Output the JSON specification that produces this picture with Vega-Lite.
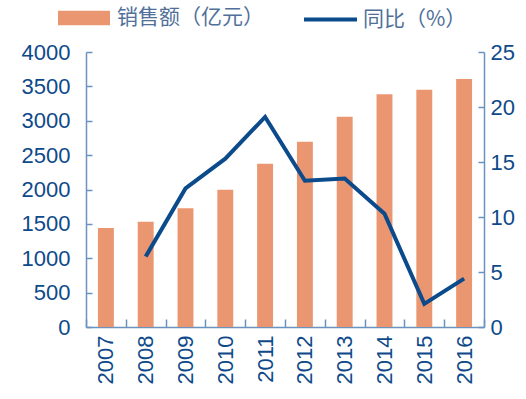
{
  "$schema": "https://vega.github.io/schema/vega-lite/v6.json",
  "width": 398,
  "height": 275,
  "autosize": {"type": "none"},
  "padding": {"left": 86, "top": 52, "right": 42, "bottom": 72},
  "background": "white",
  "data": {
    "values": [
      {"year": "2007", "sales": 1440, "yoy": null},
      {"year": "2008", "sales": 1532, "yoy": 6.4},
      {"year": "2009", "sales": 1726, "yoy": 12.6},
      {"year": "2010", "sales": 1997, "yoy": 15.3},
      {"year": "2011", "sales": 2375, "yoy": 19.1},
      {"year": "2012", "sales": 2695, "yoy": 13.3},
      {"year": "2013", "sales": 3059, "yoy": 13.5},
      {"year": "2014", "sales": 3385, "yoy": 10.3},
      {"year": "2015", "sales": 3452, "yoy": 2.1},
      {"year": "2016", "sales": 3607, "yoy": 4.4}
    ]
  },
  "config": {
    "view": {"stroke": null},
    "axis": {
      "domainColor": "#6B93BF",
      "domainWidth": 1.5,
      "tickColor": "#6B93BF",
      "tickWidth": 1.5,
      "labelFont": "Liberation Sans",
      "labelFontSize": 22,
      "labelColor": "#0E4A8A",
      "grid": false,
      "title": null
    },
    "legend": {
      "orient": "none",
      "title": null,
      "labelFont": "Noto Sans CJK SC",
      "labelFontSize": 21,
      "labelColor": "#50709A"
    }
  },
  "encoding": {
    "x": {
      "field": "year",
      "type": "ordinal",
      "scale": {"paddingInner": 0, "paddingOuter": 0},
      "axis": {"labelAngle": -90, "tickBand": "extent", "tickSize": -8, "labelPadding": 16, "labelBaseline": "middle", "labelAlign": "right"}
    }
  },
  "layer": [
    {
      "mark": {"type": "bar", "width": {"band": 0.4}},
      "encoding": {
        "y": {
          "field": "sales",
          "type": "quantitative",
          "scale": {"domain": [0, 4000]},
          "axis": {"values": [0, 500, 1000, 1500, 2000, 2500, 3000, 3500, 4000], "format": "d", "tickSize": -6, "labelPadding": 22}
        },
        "fill": {
          "datum": "销售额（亿元）",
          "scale": {"range": ["#EA9670"]},
          "legend": {
            "legendX": -28,
            "legendY": -60,
            "labelOffset": 7,
            "symbolType": "M-1,-0.28H1V0.28H-1Z",
            "symbolSize": 2704,
            "symbolStrokeWidth": 0
          }
        }
      }
    },
    {
      "mark": {"type": "line", "strokeWidth": 4},
      "encoding": {
        "y": {
          "field": "yoy",
          "type": "quantitative",
          "scale": {"domain": [0, 25]},
          "axis": {"orient": "right", "values": [0, 5, 10, 15, 20, 25], "tickSize": -6, "labelPadding": 12}
        },
        "stroke": {
          "datum": "同比（%）",
          "scale": {"range": ["#0B4A8B"]},
          "legend": {
            "legendX": 216,
            "legendY": -61,
            "labelOffset": 4,
            "symbolType": "stroke",
            "symbolSize": 2809,
            "symbolStrokeWidth": 4
          }
        }
      }
    }
  ],
  "resolve": {"scale": {"y": "independent", "fill": "independent", "stroke": "independent"}}
}
